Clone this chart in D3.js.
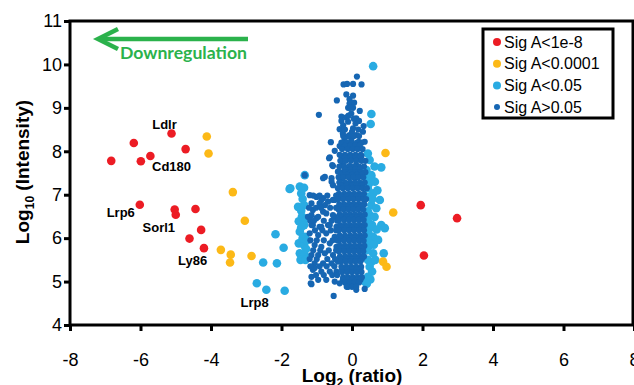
<!DOCTYPE html>
<html><head><meta charset="utf-8">
<script src="https://cdn.jsdelivr.net/npm/d3@7"></script>
<style>
html,body{margin:0;padding:0;background:#fff;overflow:hidden}
svg{display:block}
</style></head>
<body>
<svg id="chart" width="634" height="385"></svg>
<script>
// ---- data ----
const xTicks = [-8, -6, -4, -2, 0, 2, 4, 6, 8];
const yTicks = [4, 5, 6, 7, 8, 9, 10, 11];
const seriesNames = ["Sig A<1e-8", "Sig A<0.0001", "Sig A<0.05", "Sig A>0.05"];

const sigRed = [
  [-6.83,7.78],[-6.19,8.19],[-5.99,7.77],[-5.72,7.89],[-5.12,8.41],[-4.72,8.05],
  [-6.02,6.77],[-5.03,6.66],[-5.00,6.54],[-4.44,6.67],[-4.28,6.19],[-4.61,5.99],[-4.20,5.77],
  [1.95,6.76],[2.98,6.46],[2.04,5.60]
];
const sigYellow = [
  [-4.12,8.34],[-4.07,7.95],[-3.38,7.06],[-3.04,6.40],[-3.72,5.73],[-3.44,5.62],[-3.46,5.44],[-2.85,5.59],
  [0.95,7.96],[1.17,6.59],[0.88,5.46],[0.98,5.34]
];
const sigLight = [
  [-1.75,7.15],[-2.17,6.09],[-1.94,5.78],[-2.52,5.44],[-2.13,5.42],[-2.70,4.96],[-2.43,4.81],[-1.91,4.79],
  [0.60,9.96],[0.55,8.86],[0.53,8.63],[-1.34,7.45],
  [0.45,7.95],[0.50,7.80],[0.64,7.65],[0.83,7.63],[0.41,7.57],[0.55,7.45],[0.45,7.38],
  [-1.77,7.13],[-1.48,7.19],[-1.36,7.16],[-1.44,7.03],[-1.53,6.72],[-1.36,6.76],[-1.44,6.63],[-1.51,6.39],
  [-1.36,6.30],[-1.48,6.15],[-1.34,6.03],[-1.51,5.88],[-1.36,5.84],[-1.48,5.65],[-1.34,5.61],[-1.46,5.50],
  [-1.32,5.50],[-1.40,6.90],[-1.42,6.50],[-1.40,6.00],[-1.44,6.25],[-1.30,6.45],[-1.28,5.95],[-1.30,5.75],
  [0.55,7.38],[0.45,7.15],[0.60,7.03],[0.79,6.88],[0.55,6.76],[0.69,6.69],[0.50,6.53],[0.64,6.49],
  [0.83,6.30],[0.93,6.23],[0.50,6.23],[0.60,6.03],[0.74,5.96],[0.50,5.84],[0.60,5.65],[0.90,5.65],
  [0.45,5.50],[0.50,5.34],[0.57,5.23],[0.45,5.11],[0.36,5.00],[0.50,7.42],[0.57,6.30],
  [0.48,7.25],[0.48,6.95],[0.45,6.62],[0.46,6.38],[0.47,6.10],[0.45,5.95],[0.44,5.72],[0.55,5.45],[0.72,7.10],
  [0.65,7.30],[0.58,6.90],[0.70,6.20],[0.62,5.85],[0.66,5.50],[0.52,5.05],[0.42,4.95]
];
const sigDark = [
  // upper scatter
  [0.14,9.72],[-0.24,9.54],[-0.14,9.55],[0.03,9.55],[0.27,9.54],[-0.16,9.31],[0.03,9.28],[-0.43,9.17],
  [-0.07,9.20],[-0.07,9.10],[0.06,9.12],[-0.94,8.84],[-0.11,9.00],[0.03,9.00],[0.22,8.93],[-0.02,8.87],
  [-0.30,8.80],[-0.16,8.78],[0.12,8.76],[-0.30,8.70],[-0.11,8.68],[0.10,8.64],[0.33,8.58],[-0.35,8.51],
  [0.03,8.53],[0.31,8.45],[-0.26,8.41],[-0.07,8.37],[0.12,8.37],[-0.60,8.21],[-0.21,8.26],[-0.02,8.26],
  [0.19,8.22],[0.36,8.22],[-0.49,8.01],[-0.35,8.12],[-0.16,8.11],[0.03,8.07],[0.22,8.07],[-0.65,7.84],
  [-0.30,7.89],[-0.11,7.88],[0.08,7.86],[0.27,7.89],[-0.54,7.66],[-0.26,7.68],[-0.07,7.66],[0.12,7.68],
  [-0.40,7.53],[-0.21,7.53],[-0.02,7.53],[0.17,7.53],[-0.77,7.41],[-0.58,7.38],[-0.30,7.38],[-0.07,7.40],[0.12,7.40],
  [-1.34,7.45],
  [-0.20,8.50],[0.18,8.50],[-0.10,8.82],[0.05,8.75],[0.20,8.70],[-0.25,8.60],[0.00,8.45],[-0.05,9.00],
  // left lobe
  [-0.63,7.86],[-0.56,7.68],[-0.82,7.38],[-0.58,7.30],[-0.54,7.22],[-1.20,6.99],[-1.01,6.95],[-0.82,6.92],
  [-1.15,6.80],[-0.92,6.80],[-0.77,6.76],[-0.54,6.88],[-1.11,6.65],[-0.82,6.61],[-1.25,6.49],[-1.01,6.46],
  [-0.49,6.49],[-1.15,6.30],[-0.92,6.26],[-0.68,6.30],[-0.44,6.26],[-1.20,6.11],[-0.96,6.07],[-0.73,6.11],
  [-0.87,6.88],[-0.68,6.84],[-0.49,6.88],[-1.15,6.53],[-0.96,6.49],[-0.73,6.57],[-0.54,6.53],
  [-1.11,6.30],[-0.87,6.26],[-0.63,6.30],[-0.49,6.03],[-1.06,5.84],[-0.87,5.80],[-0.63,5.88],[-0.44,5.80],
  [-1.15,5.61],[-0.96,5.61],[-0.77,5.65],[-0.54,5.61],[-1.06,5.42],[-0.82,5.42],[-0.58,5.42],[-0.40,5.46],
  [-1.11,5.27],[-0.87,5.23],[-0.63,5.23],[-0.44,5.23],[-1.15,5.11],[-0.96,5.04],[-0.73,5.04],[-0.49,5.00],
  [-1.17,4.96],[-0.52,4.67],[-1.15,4.94],[-1.06,5.31],[0.36,4.83],[0.12,4.81],[-0.11,4.88],[-0.35,4.96],
  [-1.10,6.98],[-0.92,6.98],[-0.70,6.98],[-0.45,6.98],
  [-1.22,6.70],[-1.02,6.70],[-0.88,6.70],[-0.62,6.70],[-0.45,6.70],
  [-1.18,6.40],[-1.08,6.40],[-0.80,6.40],[-0.58,6.40],[-0.42,6.40],
  [-1.05,6.18],[-0.84,6.18],[-0.60,6.18],[-0.45,6.18],
  [-1.18,5.95],[-1.00,5.95],[-0.80,5.95],[-0.55,5.95],[-0.42,5.95],
  [-1.10,5.72],[-0.90,5.72],[-0.66,5.72],[-0.45,5.72],
  [-1.20,5.52],[-1.00,5.52],[-0.70,5.52],[-0.48,5.52],
  [-1.18,5.35],[-0.92,5.35],[-0.72,5.35],[-0.50,5.35],
  [-1.02,5.15],[-0.80,5.15],[-0.56,5.15],[-0.42,5.15],
  // dense core
  [-0.25,8.35],[-0.10,8.35],[0.05,8.35],[0.20,8.35],
  [-0.30,8.20],[-0.15,8.20],[0.00,8.20],[0.15,8.20],[0.28,8.20],
  [-0.20,8.13],[-0.05,8.13],[0.10,8.13],[0.22,8.13],
  [-0.28,8.05],[-0.12,8.05],[0.02,8.05],[0.16,8.05],[0.30,8.05],
  [-0.35,7.92],[-0.20,7.92],[-0.05,7.92],[0.10,7.92],[0.25,7.92],
  [-0.20,7.85],[-0.05,7.85],[0.10,7.85],[0.22,7.85],
  [-0.33,7.78],[-0.18,7.78],[-0.03,7.78],[0.12,7.78],[0.27,7.78],[0.38,7.78],
  [-0.36,7.65],[-0.22,7.65],[-0.08,7.65],[0.06,7.65],[0.20,7.65],[0.34,7.65],
  [-0.20,7.58],[-0.05,7.58],[0.10,7.58],[0.22,7.58],
  [-0.34,7.52],[-0.18,7.52],[-0.04,7.52],[0.10,7.52],[0.24,7.52],[0.38,7.52],
  [-0.30,7.46],[-0.15,7.46],[0.00,7.46],[0.14,7.46],[0.28,7.46],
  [-0.38,7.40],[-0.24,7.40],[-0.10,7.40],[0.04,7.40],[0.18,7.40],[0.32,7.40],
  [-0.36,7.28],[-0.20,7.28],[-0.06,7.28],[0.08,7.28],[0.22,7.28],[0.36,7.28],
  [-0.30,7.22],[-0.15,7.22],[0.00,7.22],[0.14,7.22],[0.28,7.22],
  [-0.40,7.15],[-0.26,7.15],[-0.12,7.15],[0.02,7.15],[0.16,7.15],[0.30,7.15],[0.42,7.15],
  [-0.37,7.02],[-0.22,7.02],[-0.08,7.02],[0.06,7.02],[0.20,7.02],[0.34,7.02],
  [-0.30,6.96],[-0.15,6.96],[0.00,6.96],[0.14,6.96],[0.28,6.96],
  [-0.39,6.90],[-0.25,6.90],[-0.10,6.90],[0.04,6.90],[0.18,6.90],[0.32,6.90],[0.40,6.90],
  [-0.36,6.78],[-0.22,6.78],[-0.07,6.78],[0.07,6.78],[0.21,6.78],[0.35,6.78],
  [-0.30,6.72],[-0.15,6.72],[0.00,6.72],[0.14,6.72],[0.28,6.72],
  [-0.38,6.66],[-0.24,6.66],[-0.10,6.66],[0.04,6.66],[0.18,6.66],[0.32,6.66],
  [-0.35,6.54],[-0.20,6.54],[-0.06,6.54],[0.08,6.54],[0.22,6.54],[0.36,6.54],
  [-0.30,6.48],[-0.15,6.48],[0.00,6.48],[0.14,6.48],[0.28,6.48],
  [-0.38,6.42],[-0.23,6.42],[-0.09,6.42],[0.05,6.42],[0.19,6.42],[0.33,6.42],
  [-0.34,6.30],[-0.20,6.30],[-0.06,6.30],[0.08,6.30],[0.22,6.30],[0.36,6.30],
  [-0.30,6.24],[-0.15,6.24],[0.00,6.24],[0.14,6.24],[0.28,6.24],
  [-0.37,6.18],[-0.22,6.18],[-0.08,6.18],[0.06,6.18],[0.20,6.18],[0.34,6.18],
  [-0.35,6.06],[-0.20,6.06],[-0.05,6.06],[0.09,6.06],[0.23,6.06],[0.36,6.06],
  [-0.30,6.00],[-0.15,6.00],[0.00,6.00],[0.14,6.00],[0.28,6.00],
  [-0.38,5.94],[-0.23,5.94],[-0.08,5.94],[0.06,5.94],[0.20,5.94],[0.33,5.94],
  [-0.34,5.82],[-0.20,5.82],[-0.06,5.82],[0.08,5.82],[0.22,5.82],[0.35,5.82],
  [-0.30,5.76],[-0.15,5.76],[0.00,5.76],[0.14,5.76],[0.28,5.76],
  [-0.37,5.70],[-0.22,5.70],[-0.08,5.70],[0.06,5.70],[0.20,5.70],[0.32,5.70],
  [-0.34,5.58],[-0.19,5.58],[-0.05,5.58],[0.09,5.58],[0.23,5.58],[0.34,5.58],
  [-0.30,5.52],[-0.15,5.52],[0.00,5.52],[0.14,5.52],[0.28,5.52],
  [-0.32,5.46],[-0.18,5.46],[-0.04,5.46],[0.10,5.46],[0.24,5.46],
  [-0.30,5.34],[-0.16,5.34],[-0.02,5.34],[0.12,5.34],[0.26,5.34],
  [-0.28,5.28],[-0.15,5.28],[0.00,5.28],[0.14,5.28],[0.24,5.28],
  [-0.28,5.22],[-0.14,5.22],[0.00,5.22],[0.14,5.22],[0.27,5.22],
  [-0.25,5.10],[-0.12,5.10],[0.02,5.10],[0.16,5.10],[0.28,5.10],
  [-0.26,5.04],[-0.12,5.04],[0.00,5.04],[0.14,5.04],[0.24,5.04],
  [-0.20,4.98],[-0.06,4.98],[0.08,4.98],[0.20,4.98],
  [-0.15,4.88],[0.00,4.88],[0.12,4.88]
];
const geneLabels = [
  {name:"Ldlr",  x:-5.32, y:8.61},
  {name:"Cd180", x:-5.12, y:7.66},
  {name:"Lrp6",  x:-6.56, y:6.60},
  {name:"Sorl1", x:-5.48, y:6.26},
  {name:"Ly86",  x:-4.52, y:5.50},
  {name:"Lrp8",  x:-2.76, y:4.53}
];

// ---- drawing ----
const colors = ["#ec1c24", "#fcb917", "#29abe2", "#1666b3"];
const radii = [4.3, 4.3, 4.3, 3.1];
const svg = d3.select("#chart");
const x = d3.scaleLinear().domain([-8, 8]).range([70, 634]);
const y = d3.scaleLinear().domain([4, 11]).range([325, 21]);
const font = "'Liberation Sans', Arial, sans-serif";

// points (light blue below dark blue, then yellow, red)
const layers = [[sigLight, 2], [sigDark, 3], [sigYellow, 1], [sigRed, 0]];
layers.forEach(([data, i]) => {
  svg.append("g").selectAll("circle").data(data).join("circle")
    .attr("cx", d => x(d[0])).attr("cy", d => y(d[1]))
    .attr("r", radii[i]).attr("fill", colors[i]);
});

// frame
svg.append("rect").attr("x", 70).attr("y", 21).attr("width", 563).attr("height", 304)
  .attr("fill", "none").attr("stroke", "#000").attr("stroke-width", 3);

// axes
const xAxis = d3.axisBottom(x).tickValues(xTicks).tickSize(6).tickPadding(22).tickFormat(d => String(d));
const gx = svg.append("g").attr("transform", "translate(0,325)").call(xAxis);
const yAxis = d3.axisLeft(y).tickValues(yTicks).tickSize(6).tickPadding(2).tickFormat(d => String(d));
const gy = svg.append("g").attr("transform", "translate(70,0)").call(yAxis);
[gx, gy].forEach(g => {
  g.select(".domain").remove();
  g.selectAll(".tick line").attr("stroke", "#000").attr("stroke-width", 3);
  g.selectAll(".tick text").attr("fill", "#000").style("font-family", font).style("font-size", "18px");
});

// axis titles
const xt = svg.append("text").attr("x", 352).attr("y", 382).attr("text-anchor", "middle")
  .style("font-family", font).style("font-size", "19px").style("font-weight", "bold");
xt.append("tspan").text("Log");
xt.append("tspan").attr("dy", 5).style("font-size", "12px").text("2");
xt.append("tspan").attr("dy", -5).text(" (ratio)");

const yt = svg.append("text").attr("transform", "translate(29,172) rotate(-90)").attr("text-anchor", "middle")
  .style("font-family", font).style("font-size", "19px").style("font-weight", "bold");
yt.append("tspan").text("Log");
yt.append("tspan").attr("dy", 5).style("font-size", "12px").text("10");
yt.append("tspan").attr("dy", -5).text(" (Intensity)");

// gene labels
svg.append("g").selectAll("text").data(geneLabels).join("text")
  .attr("x", d => x(d.x)).attr("y", d => y(d.y)).attr("dy", "0.36em").attr("text-anchor", "middle")
  .style("font-family", font).style("font-size", "13px").style("font-weight", "bold").text(d => d.name);

// downregulation arrow
const green = "#2bb24c";
svg.append("line").attr("x1", 248).attr("x2", 99).attr("y1", 39).attr("y2", 39)
  .attr("stroke", green).attr("stroke-width", 4.5);
svg.append("path").attr("d", "M118,29 L98,39 L118,49").attr("fill", "none")
  .attr("stroke", green).attr("stroke-width", 4.5).attr("stroke-linejoin", "miter");
svg.append("text").attr("x", 120).attr("y", 59).attr("textLength", 127)
  .attr("lengthAdjust", "spacingAndGlyphs").attr("fill", green)
  .style("font-family", "Lato, 'Open Sans', sans-serif").style("font-size", "17px").style("font-weight", "bold")
  .text("Downregulation");

// legend
const lg = svg.append("g");
lg.append("rect").attr("x", 483).attr("y", 29).attr("width", 130).attr("height", 89)
  .attr("fill", "#fff").attr("stroke", "#000").attr("stroke-width", 3);
seriesNames.forEach((n, i) => {
  const cy = 42 + i * 21.7;
  lg.append("circle").attr("cx", 497).attr("cy", cy).attr("r", i === 3 ? 3 : 4).attr("fill", colors[i]);
  lg.append("text").attr("x", 504).attr("y", cy).attr("dy", "0.36em")
    .style("font-family", font).style("font-size", "16px").text(n);
});
</script>
</body></html>
